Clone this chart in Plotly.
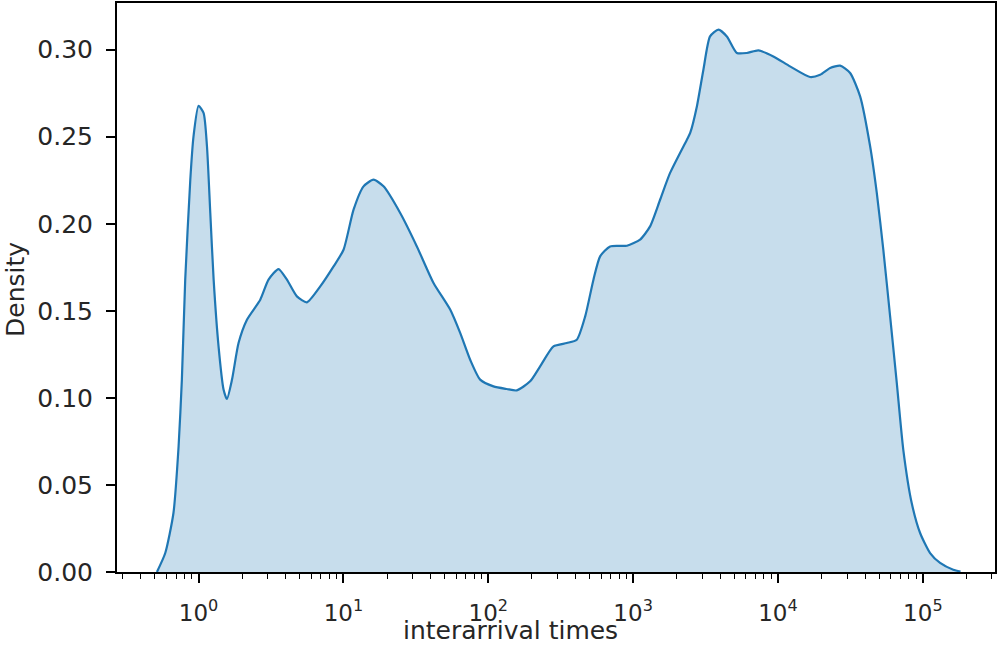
import plotly.graph_objects as go

# interarrival time values (x) and KDE density (y)
times = [0.516, 0.589, 0.671, 0.728, 0.767, 0.809, 0.877, 0.923, 1.000, 1.084,
         1.143, 1.205, 1.271, 1.374, 1.489, 1.570, 1.702, 1.888, 2.158, 2.667,
         3.041, 3.565, 4.074, 4.775, 5.598, 6.918, 8.551, 10.02, 11.75, 13.77,
         16.14, 18.92, 24.66, 32.14, 41.88, 54.58, 63.97, 74.99, 87.90, 108.6,
         134.3, 157.4, 194.5, 228.0, 281.8, 348.3, 408.3, 466.7, 532.1, 591.6,
         693.4, 905.7, 1117, 1309, 1535, 1799, 2350, 2477, 2754, 3055,
         3396, 3882, 4436, 5200, 6095, 7328, 9290, 12106, 16634, 19543,
         22909, 26853, 31477, 36897, 43251, 48084, 53333, 59429, 66069, 73282,
         83753, 95719, 112202, 131522, 162181, 182000]
density = [0.000, 0.0109, 0.0339, 0.0721, 0.1105, 0.1679, 0.2253, 0.2502, 0.2678, 0.2636,
           0.2445, 0.2062, 0.1679, 0.1296, 0.1047, 0.0994, 0.1105, 0.1315, 0.1449, 0.1564,
           0.1679, 0.1740, 0.1679, 0.1583, 0.1549, 0.1640, 0.1755, 0.1851, 0.2081, 0.2215,
           0.2253, 0.2215, 0.2062, 0.1870, 0.1660, 0.1507, 0.1373, 0.1219, 0.1105, 0.1066,
           0.1051, 0.1043, 0.1095, 0.1181, 0.1296, 0.1315, 0.1334, 0.1468, 0.1679, 0.1813,
           0.1870, 0.1874, 0.1909, 0.1985, 0.2138, 0.2292, 0.2483, 0.2522, 0.2674, 0.2885,
           0.3076, 0.3115, 0.3076, 0.2981, 0.2981, 0.2996, 0.2961, 0.2904, 0.2843, 0.2856,
           0.2895, 0.2908, 0.2866, 0.2732, 0.2445, 0.2177, 0.1851, 0.1468, 0.1086, 0.0702,
           0.0396, 0.0224, 0.0109, 0.0052, 0.0013, 0.0003]

x_tick_vals = [1, 10, 100, 1000, 10000, 100000]
x_tick_text = ["10<sup>0</sup>", "10<sup>1</sup>", "10<sup>2</sup>",
               "10<sup>3</sup>", "10<sup>4</sup>", "10<sup>5</sup>"]
y_tick_vals = [0.00, 0.05, 0.10, 0.15, 0.20, 0.25, 0.30]
minor_vals = [d * 10 ** k for k in range(-1, 6) for d in range(2, 10)]

FONT = "DejaVu Sans"
TXT = "#262626"

W, H = 1000, 648
L, R, T, B = 117, 5, 3, 76
PW, PH = W - L - R, H - T - B


def px_to_paper(px, py):
    return (px - L) / PW, 1 - (py - T) / PH


fig = go.Figure()
fig.add_trace(go.Scatter(
    x=times, y=density, mode="lines",
    line=dict(color="#1f77b4", width=2.2, shape="spline", smoothing=0.6),
    fill="tozeroy", fillcolor="rgba(31,119,180,0.25)", showlegend=False, hoverinfo="skip"))

xt_x, xt_y = px_to_paper(510, 630)
yt_x, yt_y = px_to_paper(15, 290)

fig.update_layout(
    width=W, height=H,
    margin=dict(l=L, r=R, t=T, b=B, autoexpand=False),
    paper_bgcolor="white", plot_bgcolor="white",
    font=dict(family=FONT, size=23, color=TXT),
    xaxis=dict(
        type="log", range=[-0.563, 5.498], automargin=False,
        tickvals=x_tick_vals, ticktext=x_tick_text,
        ticks="outside", ticklen=9, tickwidth=1.8, tickcolor="black",
        ticklabelstandoff=10,
        showline=True, linecolor="black", linewidth=2, mirror=True,
        showgrid=False, zeroline=False,
        tickfont=dict(family=FONT, size=23, color=TXT),
        minor=dict(tickvals=minor_vals, ticks="outside", ticklen=5, tickwidth=1.4,
                   tickcolor="black", showgrid=False),
    ),
    yaxis=dict(
        range=[0, 0.3268], automargin=False,
        tickvals=y_tick_vals, tickformat=".2f",
        ticks="outside", ticklen=9, tickwidth=1.8, tickcolor="black",
        ticklabelstandoff=8,
        showline=True, linecolor="black", linewidth=2, mirror=True,
        showgrid=False, zeroline=False,
        tickfont=dict(family=FONT, size=25, color=TXT),
    ),
    annotations=[
        dict(text="interarrival times", x=xt_x, y=xt_y, xref="paper", yref="paper",
             xanchor="center", yanchor="middle", showarrow=False,
             font=dict(family=FONT, size=25, color=TXT)),
        dict(text="Density", x=yt_x, y=yt_y, xref="paper", yref="paper",
             xanchor="center", yanchor="middle", textangle=-90, showarrow=False,
             font=dict(family=FONT, size=25, color=TXT)),
    ],
)

fig.write_html(
    "out.html",
    config={"displayModeBar": False},
    post_script="document.body.style.margin='0';document.body.style.padding='0';"
                "document.body.style.overflow='hidden';",
)
